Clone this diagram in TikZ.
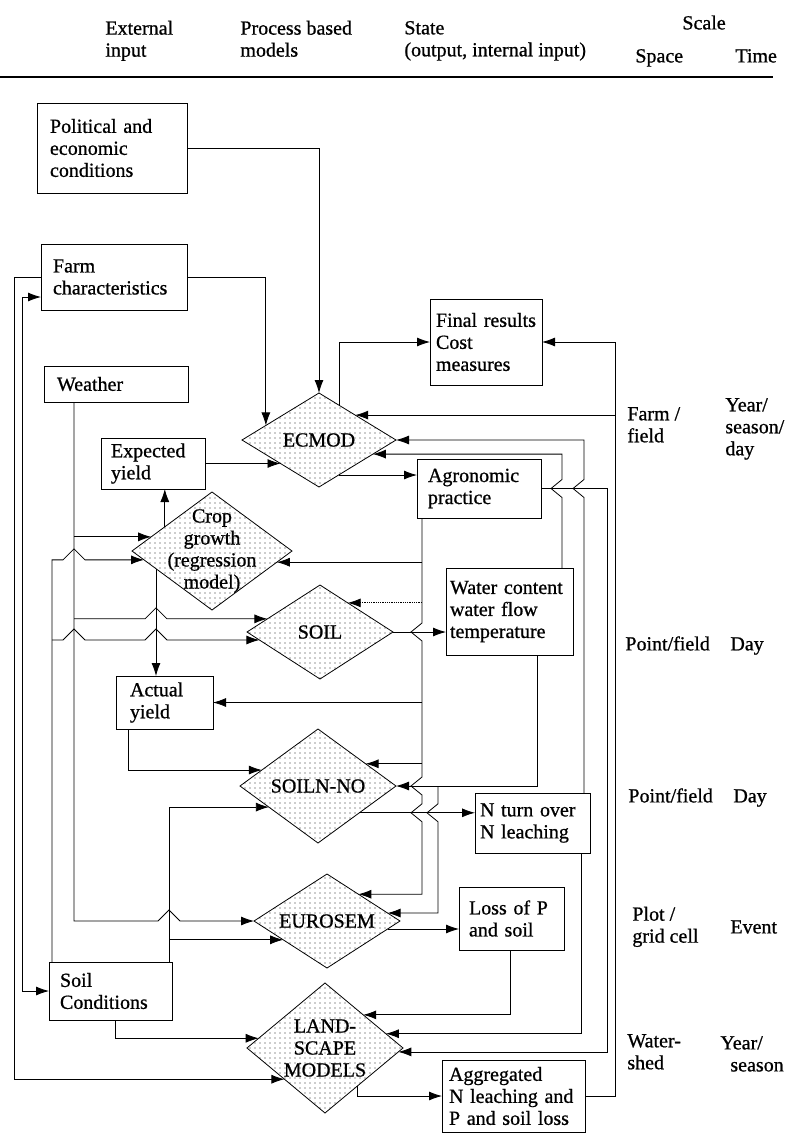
\documentclass[tikz,border=0pt]{standalone}
\usepackage{fontspec}
\setmainfont{Liberation Serif}[FakeBold=0.8]
\usetikzlibrary{arrows.meta, shapes.geometric, patterns.meta, calc}

\begin{document}
\begin{tikzpicture}[x=1pt, y=-1pt, line width=0.8pt, >={Latex[length=13pt,width=9pt]}]

\tikzset{every node/.style = {font=\fontsize{20}{22}\selectfont}}
\tikzset{box/.style = {draw, rectangle, anchor=north west, align=left, inner ysep=0pt, outer sep=0pt}}
\tikzset{model/.style = {draw, diamond, inner sep=0pt, outer sep=0pt, pattern={Dots[distance=5pt,radius=0.6pt]}, pattern color=black!85}}
\tikzset{lbl/.style = {align=center, inner sep=0pt}}
\tikzset{txt/.style = {anchor=west, align=left, inner sep=0pt, execute at begin node=\strut, execute at end node=\strut}}

\useasboundingbox (0,0) rectangle (785,1138);

% heading
\node[txt] (hext) at (105,42) {External\\input};
\node[txt] (hproc) at (240,42) {Process based\\models};
\node[txt] (hstate) at (404,42) {State\\(output, internal input)};
\node[txt] (hscale) at (682,25) {Scale};
\node[txt] (hspace) at (635,58) {Space};
\node[txt] (htime) at (735,58) {Time};
\draw[line width=1.2pt] (0,77) -- (773,77);

% boxes
\node[box, text width=124pt, inner xsep=13pt, minimum height=90pt] (pol) at (37,103) {Political and\\economic\\conditions};
\node[box, text width=122pt, inner xsep=12pt, minimum height=66pt] (farm) at (41,244) {Farm\\characteristics};
\node[box, text width=118pt, inner xsep=13pt, minimum height=36pt] (weather) at (44,366) {Weather};
\node[box, text width=84pt, inner xsep=10pt, minimum height=51pt] (expyield) at (101,438) {Expected\\yield};
\node[box, text width=69pt, inner xsep=14pt, minimum height=53pt] (actyield) at (116,676) {Actual\\yield};
\node[box, text width=101pt, inner xsep=11pt, minimum height=58pt] (soilcond) at (49,962) {Soil\\Conditions};
\node[box, text width=100pt, inner xsep=6pt, minimum height=86pt] (final) at (430,299) {Final results\\Cost\\measures};
\node[box, text width=102pt, inner xsep=11pt, minimum height=59pt] (agro) at (417,459) {Agronomic\\practice};
\node[box, text width=119pt, inner xsep=4pt, minimum height=87pt] (water) at (446,568) {Water content\\water flow\\temperature};
\node[box, text width=105pt, inner xsep=5pt, minimum height=60pt] (nturn) at (475,793) {N turn over\\N leaching};
\node[box, text width=85pt, inner xsep=10pt, minimum height=63pt] (lossp) at (459,887) {Loss of P\\and soil};
\node[box, text width=129pt, inner xsep=7pt, minimum height=72pt] (aggr) at (442,1060) {Aggregated\\N leaching and\\P and soil loss};

% models
\node[model, minimum width=154pt, minimum height=94pt, label={[lbl]center:ECMOD}] (ecmod) at (319,440) {};
\node[model, minimum width=160pt, minimum height=118pt, label={[lbl]center:{Crop\\growth\\(regression\\model)}}] (crop) at (212,551) {};
\node[model, minimum width=146pt, minimum height=94pt, label={[lbl]center:SOIL}] (soil) at (320,632) {};
\node[model, minimum width=156pt, minimum height=114pt, label={[lbl]center:SOILN-NO}] (soiln) at (318,786) {};
\node[model, minimum width=146pt, minimum height=94pt, label={[lbl]center:EUROSEM}] (eurosem) at (327,921) {};
\node[model, minimum width=156pt, minimum height=130pt, label={[lbl]center:{LAND-\\SCAPE\\MODELS}}] (land) at (325,1048) {};

% scale
\node[txt] (sfarm) at (627,428) {Farm /\\field};
\node[txt] (tfarm) at (725,430) {Year/\\season/\\day};
\node[txt] (ssoil) at (625,646) {Point/field};
\node[txt] (tsoil) at (730,646) {Day};
\node[txt] (ssoiln) at (628,798) {Point/field};
\node[txt] (tsoiln) at (733,798) {Day};
\node[txt] (seuro) at (632,928) {Plot /\\grid cell};
\node[txt] (teuro) at (730,929) {Event};
\node[txt] (sland) at (627,1055) {Water-\\shed};
\node[txt] (tland) at (720,1045) {Year/};
\node[txt] (tland2) at (730,1067) {season};

% line ends
\coordinate (wx) at ([xshift=30pt]weather.south west);
\coordinate (sc1) at ([xshift=3pt]soilcond.north west);
\coordinate (sc2) at ([xshift=-3pt]soilcond.north east);
\coordinate (sc3) at ([xshift=66pt]soilcond.south west);
\coordinate (ay1) at ([xshift=12pt]actyield.south west);
\coordinate (ag1) at ([xshift=5pt]agro.south west);
\coordinate (wt1) at ([xshift=-36pt]water.south east);
\coordinate (wt2) at ([xshift=-11pt]water.north east);
\coordinate (nt1) at ([xshift=-6pt]nturn.north east);
\coordinate (nt2) at ([xshift=-9pt]nturn.south east);
\coordinate (lp1) at ([xshift=-54pt]lossp.south east);
\coordinate (rb) at ([xshift=30pt]aggr.east);
\coordinate (e2) at ($(ecmod.west)!0.31!(ecmod.north)$);
\coordinate (e3) at ($(ecmod.north)!0.27!(ecmod.east)$);
\coordinate (e4) at ($(ecmod.west)!0.5!(ecmod.south)$);
\coordinate (e5) at ($(ecmod.east)!0.745!(ecmod.south)$);
\coordinate (e6) at ($(ecmod.east)!0.53!(ecmod.north)$);
\coordinate (e8) at ($(ecmod.east)!0.3!(ecmod.south)$);
\coordinate (c1) at ($(crop.west)!0.24!(crop.north)$);
\coordinate (c2) at ($(crop.west)!0.15!(crop.south)$);
\coordinate (c3) at ($(crop.west)!0.41!(crop.north)$);
\coordinate (c4) at ($(crop.west)!0.3!(crop.south)$);
\coordinate (c5) at ($(crop.east)!0.19!(crop.south)$);
\coordinate (s1) at ($(soil.west)!0.28!(soil.north)$);
\coordinate (s2) at ($(soil.west)!0.17!(soil.south)$);
\coordinate (s3) at ($(soil.east)!0.62!(soil.north)$);
\coordinate (n1) at ($(soiln.west)!0.28!(soiln.north)$);
\coordinate (n2) at ($(soiln.west)!0.37!(soiln.south)$);
\coordinate (n3) at ($(soiln.east)!0.39!(soiln.north)$);
\coordinate (n5) at ($(soiln.east)!0.47!(soiln.south)$);
\coordinate (u2) at ($(eurosem.west)!0.4!(eurosem.south)$);
\coordinate (u3) at ($(eurosem.east)!0.57!(eurosem.north)$);
\coordinate (u4) at ($(eurosem.east)!0.17!(eurosem.north)$);
\coordinate (u5) at ($(eurosem.east)!0.17!(eurosem.south)$);
\coordinate (l1) at ($(land.west)!0.15!(land.north)$);
\coordinate (l2) at ($(land.west)!0.48!(land.south)$);
\coordinate (l3) at ($(land.east)!0.51!(land.north)$);
\coordinate (l4) at ($(land.east)!0.22!(land.north)$);
\coordinate (l5) at ($(land.east)!0.06!(land.south)$);
\coordinate (l6) at ($(land.east)!0.59!(land.south)$);

% ECMOD
\draw[->] (pol.east) -| (ecmod.north);
\draw[->] (farm.east) -| (e2);
\draw[->] (expyield.east) -- (e4);
\draw[->] (e3) |- (final.west);
\draw[->] (e5) -- (e5 -| agro.west);

% crop growth
\draw[->] (wx |- c1) -- (c1);
\draw[->] (sc1) |- ($(wx |- c2)+(-11,0)$) -- ++(11,-11) -- ++(11,11) -- (c2);
\draw[->] (c3) -- (c3 |- expyield.south);
\draw[->] (c4) -- (c4 |- actyield.north);
\draw[->] (ag1 |- c5) -- (c5);

% SOIL
\draw[->] (wx |- s1) -- ($(c4 |- s1)+(-11,0)$) -- ++(11,-11) -- ++(11,11) -- (s1);
\draw[->] (sc1 |- s2) -- ($(wx |- s2)+(-11,0)$) -- ++(11,-11) -- ++(11,11) -- ($(c4 |- s2)+(-11,0)$) -- ++(11,-11) -- ++(11,11) -- (s2);
\draw[->, densely dotted] (ag1 |- s3) -- (s3);
\draw[->] (soil.east) -- (soil.east -| water.west);

% SOILN-NO
\draw[->] (ag1 |- actyield.east) -- (actyield.east);
\draw[->] (ay1) |- (n1);
\draw[->] (sc2) |- (n2);
\draw[->] (ag1 |- n3) -- (n3);
\draw[->] (wt1) |- (soiln.east);
\draw[->] (n5) -- (n5 -| nturn.west);

% EUROSEM
\draw[->] (wx) |- ($(sc2 |- eurosem.west)+(-11,0)$) -- ++(11,-11) -- ++(11,11) -- (eurosem.west);
\draw[->] (sc2 |- u2) -- (u2);
\draw[->] (ag1) -- ($(ag1 |- soil.east)+(0,-9)$) -- ++(-11,9) -- ++(11,9) -- ($(ag1 |- soiln.east)+(0,-9)$) -- ++(-11,9) -- ++(11,9) -- ($(ag1 |- n5)+(0,-9)$) -- ++(-11,9) -- ++(11,9) |- (u3);
\coordinate (wb) at ($(wt1 |- soiln.east)+(-99,0)$);
\draw[->] (wb) -- ($(wb |- n5)+(0,-9)$) -- ++(-11,9) -- ++(11,9) |- (u4);
\draw[->] (u5) -- (u5 -| lossp.west);

% landscape models
\draw[->] (farm.west) -- ++(-27,0) |- (l2);
\draw[<->] ([yshift=13pt]farm.south west) -- ++(-19,0) |- (soilcond.west);
\draw[->] (sc3) |- (l1);
\draw[->] (lp1) |- (l3);
\draw[->] (nt2) |- (l4);
\draw[->] (agro.east) -- ++(66,0) |- (l5);
\draw[->] (l6) |- (aggr.west);

% back to ECMOD and results
\draw[->] (aggr.east) -- (rb) |- (final.east);
\draw[->] (rb |- e6) -- (e6);
\draw[->] (nt1) -- ($(nt1 |- agro.east)+(0,9)$) -- ++(-11,-9) -- ++(11,-9) |- (ecmod.east);
\draw[->] (wt2) -- ($(wt2 |- agro.east)+(0,9)$) -- ++(-11,-9) -- ++(11,-9) |- (e8);
\end{tikzpicture}
\end{document}
